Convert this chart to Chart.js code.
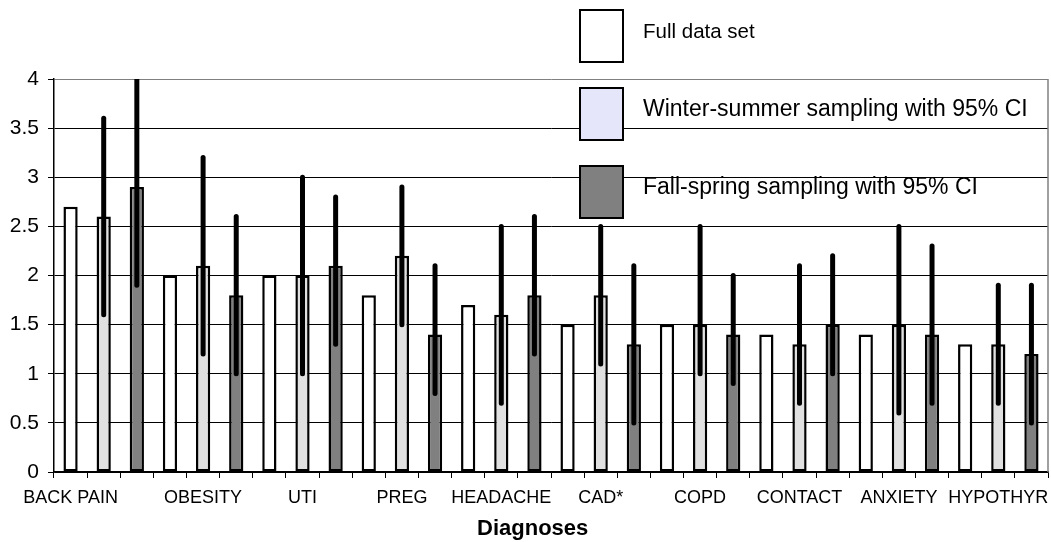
<!DOCTYPE html>
<html>
<head>
<meta charset="utf-8">
<script src="https://cdn.jsdelivr.net/npm/chart.js@4"></script>
<style>
  body { margin: 0; background: #fff; }
  #wrap { width: 1051px; height: 542px; }
</style>
</head>
<body>
<div id="wrap"><canvas id="diagChart" width="1051" height="542"></canvas></div>
<script>
const categories = ['BACK PAIN', 'OBESITY', 'UTI', 'PREG', 'HEADACHE', 'CAD*', 'COPD', 'CONTACT', 'ANXIETY', 'HYPOTHYR'];
const fullData   = [2.7, 2.0, 2.0, 1.8, 1.7, 1.5, 1.5, 1.4, 1.4, 1.3];
const winterData = [2.6, 2.1, 2.0, 2.2, 1.6, 1.8, 1.5, 1.3, 1.5, 1.3];
const winterLow  = [1.6, 1.2, 1.0, 1.5, 0.7, 1.1, 1.0, 0.7, 0.6, 0.7];
const winterHigh = [3.6, 3.2, 3.0, 2.9, 2.5, 2.5, 2.5, 2.1, 2.5, 1.9];
const fallData   = [2.9, 1.8, 2.1, 1.4, 1.8, 1.3, 1.4, 1.5, 1.4, 1.2];
const fallLow    = [1.9, 1.0, 1.3, 0.8, 1.2, 0.5, 0.9, 1.0, 0.7, 0.5];
const fallHigh   = [4.0, 2.6, 2.8, 2.1, 2.6, 2.1, 2.0, 2.2, 2.3, 1.9];
const seriesNames = ['Full data set', 'Winter-summer sampling with 95% CI', 'Fall-spring sampling with 95% CI'];

// every bar gets its own slot on the axis, three slots per diagnosis
const slotCount = categories.length * 3;
const slotLabels = [];
for (let i = 0; i < slotCount; i++) slotLabels.push('');
categories.forEach((c, g) => {
    slotLabels[g === 0 ? 0 : g * 3 + 1] = c;
});

function spread(values, offset) {
    const out = new Array(slotCount).fill(null);
    values.forEach((v, g) => { out[g * 3 + offset] = v; });
    return out;
}

const ciRanges = {
    1: [winterLow, winterHigh],
    2: [fallLow, fallHigh]
};

const errorBars = {
    id: 'errorBars',
    afterDatasetsDraw(chart) {
        const ctx = chart.ctx;
        const y = chart.scales.y;
        const area = chart.chartArea;
        ctx.save();
        ctx.beginPath();
        ctx.rect(area.left, area.top, area.right - area.left, area.bottom - area.top);
        ctx.clip();
        ctx.strokeStyle = '#000';
        ctx.lineWidth = 5;
        ctx.lineCap = 'round';
        Object.keys(ciRanges).forEach(d => {
            const meta = chart.getDatasetMeta(+d);
            const [lo, hi] = ciRanges[d];
            categories.forEach((c, g) => {
                const bar = meta.data[g * 3 + (+d)];
                if (!bar) return;
                ctx.beginPath();
                ctx.moveTo(bar.x, y.getPixelForValue(lo[g]));
                ctx.lineTo(bar.x, y.getPixelForValue(hi[g]));
                ctx.stroke();
            });
        });
        ctx.restore();
    }
};

const frameAndLegend = {
    id: 'frameAndLegend',
    afterDraw(chart) {
        const ctx = chart.ctx;
        const area = chart.chartArea;
        ctx.save();
        // right edge of plot area
        ctx.strokeStyle = '#808080';
        ctx.lineWidth = 1.5;
        ctx.beginPath();
        ctx.moveTo(area.right, area.top);
        ctx.lineTo(area.right, area.bottom);
        ctx.stroke();

        // legend
        const boxTops = [10, 88, 166];
        const fonts = ['20.5px "Liberation Sans", Arial, sans-serif', '23px "Liberation Sans", Arial, sans-serif', '23px "Liberation Sans", Arial, sans-serif'];
        chart.data.datasets.forEach((ds, i) => {
            ctx.fillStyle = ds.legendFill;
            ctx.fillRect(580, boxTops[i], 43, 52);
            ctx.strokeStyle = '#000';
            ctx.lineWidth = 2;
            ctx.strokeRect(580, boxTops[i], 43, 52);
            ctx.fillStyle = '#000';
            ctx.font = fonts[i];
            ctx.textBaseline = 'middle';
            ctx.textAlign = 'left';
            ctx.fillText(ds.label, 643, boxTops[i] + 22);
        });
        ctx.restore();
    }
};

const barBase = {
    borderColor: '#000',
    borderWidth: 2.5,
    borderSkipped: false,
    grouped: false,
    barPercentage: 0.43,
    categoryPercentage: 1
};

new Chart(document.getElementById('diagChart').getContext('2d'), {
    type: 'bar',
    data: {
        labels: slotLabels,
        datasets: [
            Object.assign({ label: seriesNames[0], data: spread(fullData, 0), backgroundColor: '#ffffff', legendFill: '#ffffff' }, barBase),
            Object.assign({ label: seriesNames[1], data: spread(winterData, 1), backgroundColor: '#e0e0e0', legendFill: '#e6e6fa' }, barBase),
            Object.assign({ label: seriesNames[2], data: spread(fallData, 2), backgroundColor: '#808080', legendFill: '#808080' }, barBase)
        ]
    },
    options: {
        responsive: false,
        animation: false,
        devicePixelRatio: 1,
        layout: { padding: { top: 79, right: 3, left: 0, bottom: 0 } },
        plugins: {
            legend: { display: false },
            tooltip: { enabled: false }
        },
        scales: {
            x: {
                grid: {
                    offset: true,
                    drawOnChartArea: false,
                    drawTicks: true,
                    tickLength: 6,
                    color: '#000'
                },
                border: { color: '#000', width: 1.5 },
                ticks: {
                    autoSkip: false,
                    maxRotation: 0,
                    minRotation: 0,
                    padding: 9,
                    color: '#000',
                    font: { family: '"Liberation Sans", Arial, sans-serif', size: 18 }
                },
                title: {
                    display: true,
                    text: 'Diagnoses      ',
                    color: '#000',
                    padding: { top: 0, bottom: 0 },
                    font: { family: '"Liberation Sans", Arial, sans-serif', size: 22, weight: 'bold' }
                },
                afterFit(scale) { scale.height = 70; }
            },
            y: {
                min: 0,
                max: 4,
                grid: {
                    color: ctx => (ctx.tick && ctx.tick.value === 4 ? '#808080' : '#000'),
                    tickColor: '#000',
                    lineWidth: 1,
                    tickLength: 6
                },
                border: { color: '#000', width: 1.5 },
                ticks: {
                    stepSize: 0.5,
                    padding: 9,
                    color: '#000',
                    font: { family: '"Liberation Sans", Arial, sans-serif', size: 21 },
                    callback: v => String(v)
                },
                afterFit(scale) { scale.width = 54; }
            }
        }
    },
    plugins: [errorBars, frameAndLegend]
});
</script>
</body>
</html>
